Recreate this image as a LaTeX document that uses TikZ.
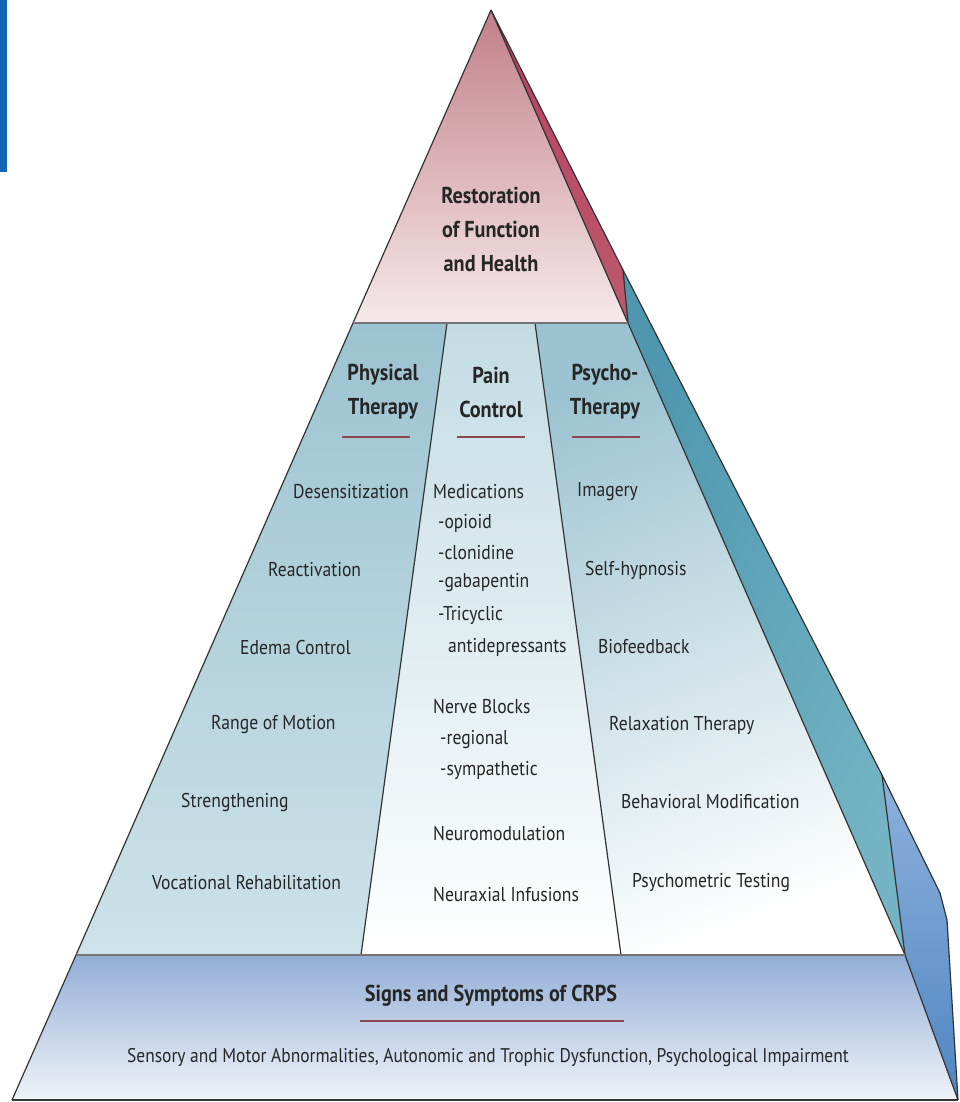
\documentclass[tikz,border=0pt]{standalone}
\usepackage{fontspec}
\setmainfont{PT Sans}[FakeStretch=0.88]

\definecolor{pinktop}{HTML}{C27F88}
\definecolor{pinkbot}{HTML}{F6E9EB}
\definecolor{pinkside}{HTML}{B8405E}
\definecolor{tealside}{HTML}{4E97AE}
\definecolor{tealsidelt}{HTML}{74B4C4}
\definecolor{blueside}{HTML}{4F86C2}
\definecolor{bluesidelt}{HTML}{8DB1DC}
\definecolor{coldark}{HTML}{9CC3D1}
\definecolor{collight}{HTML}{D3E6EC}
\definecolor{basetop}{HTML}{92AED6}
\definecolor{basebot}{HTML}{F0F3F9}
\definecolor{rulered}{HTML}{8E4652}
\definecolor{strip}{HTML}{1464B4}

\begin{document}
\begin{tikzpicture}[x=1pt,y=-1pt,
    edge line/.style={draw=black!80,line width=1.2pt},
    band line/.style={draw=black!55,line width=2.6pt},
    head node/.style={font=\fontsize{23}{34}\selectfont\bfseries,text=black!85,align=center,inner sep=0pt},
    item node/.style={font=\fontsize{20}{30}\selectfont,text=black!85,anchor=west,inner sep=0pt},
    rule/.style={draw=rulered,line width=2pt}
   ]
  \useasboundingbox (0,0) rectangle (959,1102);
  \fill[strip] (0,0) rectangle (7,172);

  % corners of the pyramid
  \coordinate (apex) at (491,10);
  \coordinate (tl) at (353,323);
  \coordinate (tr) at (628,323);
  \coordinate (ml) at (76,955);
  \coordinate (mr) at (905,955);
  \coordinate (bl) at (12,1100);
  \coordinate (br) at (958,1100);
  \coordinate (c1t) at (447,323);
  \coordinate (c1b) at (361,955);
  \coordinate (c2t) at (535,323);
  \coordinate (c2b) at (621,955);
  % right hand side faces
  \coordinate (s1) at (623,270);
  \coordinate (s2) at (882,775);
  \coordinate (s3) at (940,893);
  \coordinate (s4) at (947,920);

  \shade[top color=pinktop,bottom color=pinkbot] (apex) -- (tr) -- (tl) -- cycle;
  \shade[top color=pinkside,bottom color=pinkside!60!pinktop] (apex) -- (s1) -- (tr) -- cycle;
  \shade[left color=tealside,right color=tealsidelt,shading angle=60] (s1) -- (s2) -- (mr) -- (tr) -- cycle;
  \shade[top color=bluesidelt,bottom color=blueside] (s2) -- (s3) -- (s4) -- (br) -- (mr) -- cycle;
  \shade[top color=coldark,bottom color=collight!90!coldark] (tl) -- (c1t) -- (c1b) -- (ml) -- cycle;
  \shade[top color=collight!70!coldark,bottom color=white] (c1t) -- (c2t) -- (c2b) -- (c1b) -- cycle;
  \shade[top color=coldark,bottom color=white,shading angle=20] (c2t) -- (tr) -- (mr) -- (c2b) -- cycle;
  \shade[top color=basetop,bottom color=basebot] (ml) -- (mr) -- (br) -- (bl) -- cycle;

  \path%
   (apex) edge [edge line] (tl)
   (tl) edge [edge line] (ml)
   (ml) edge [edge line] (bl)
   (bl) edge [edge line] (br)
   (br) edge [edge line] (mr)
   (mr) edge [edge line] (tr)
   (tr) edge [edge line] (apex)
   (apex) edge [edge line] (s1)
   (s1) edge [edge line] (tr)
   (s1) edge [edge line] (s2)
   (s2) edge [edge line] (s3)
   (s3) edge [edge line] (s4)
   (s4) edge [edge line] (br)
   (s2) edge [edge line] (mr)
   (c1t) edge [edge line] (c1b)
   (c2t) edge [edge line] (c2b)
   (tl) edge [band line] (tr)
   (ml) edge [band line] (mr);

  \node[head node] (goal) at (491,229) {Restoration\\of Function\\and Health};

  \node[head node] (phys) at (383,392) {Physical\\Therapy};
  \node[head node] (pain) at (491,392) {Pain\\Control};
  \node[head node] (psych) at (605,392) {Psycho-\\Therapy};
  \draw[rule] (342,437) -- (410,437);
  \draw[rule] (457,437) -- (525,437);
  \draw[rule] (572,437) -- (640,437);

  \node[item node] (desens) at (293,492) {Desensitization};
  \node[item node] (react) at (268,570) {Reactivation};
  \node[item node] (edema) at (240,647) {Edema Control};
  \node[item node] (range) at (211,725) {Range of Motion};
  \node[item node] (strength) at (181,802) {Strengthening};
  \node[item node] (voc) at (152,883) {Vocational Rehabilitation};

  \node[item node] (meds) at (433,492) {Medications};
  \node[item node] (opioid) at (438,523) {-opioid};
  \node[item node] (clon) at (438,553) {-clonidine};
  \node[item node] (gaba) at (438,583) {-gabapentin};
  \node[item node] (tri) at (438,615) {-Tricyclic};
  \node[item node] (anti) at (448,647) {antidepressants};
  \node[item node] (nerve) at (433,707) {Nerve Blocks};
  \node[item node] (reg) at (440,740) {-regional};
  \node[item node] (symp) at (440,770) {-sympathetic};
  \node[item node] (neuro) at (433,833) {Neuromodulation};
  \node[item node] (infus) at (433,894) {Neuraxial Infusions};

  \node[item node] (imag) at (577,492) {Imagery};
  \node[item node] (hypno) at (585,570) {Self-hypnosis};
  \node[item node] (biof) at (598,647) {Biofeedback};
  \node[item node] (relax) at (609,725) {Relaxation Therapy};
  \node[item node] (behav) at (621,802) {Behavioral Modification};
  \node[item node] (psytest) at (632,883) {Psychometric Testing};

  \node[head node] (signs) at (491,996) {Signs and Symptoms of CRPS};
  \draw[rule] (360,1021) -- (624,1021);
  \node[item node,anchor=center,font=\fontsize{19.8}{22}\selectfont] (sympt) at (488,1058)
    {Sensory and Motor Abnormalities, Autonomic and Trophic Dysfunction, Psychological Impairment};
 \end{tikzpicture}
\end{document}
